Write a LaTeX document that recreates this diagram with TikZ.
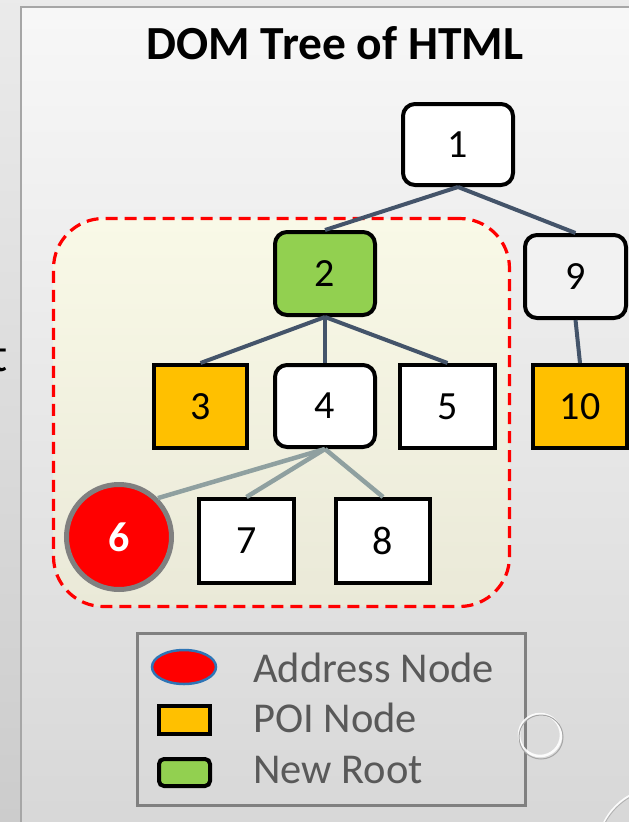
\documentclass[tikz,border=0pt]{standalone}
\usepackage{fontspec}
\setmainfont{Carlito}
\usetikzlibrary{shapes.geometric}
\definecolor{edgeblue}{HTML}{44546A}
\definecolor{edgegray}{HTML}{8FA0A0}
\definecolor{poi}{HTML}{FFC000}
\definecolor{newroot}{HTML}{92D050}
\definecolor{legtext}{HTML}{595959}
\definecolor{ellblue}{HTML}{2E75B6}
\tikzset{
  tnode/.style={draw=black, line width=4pt, inner sep=0pt, font=\fontsize{40}{44}\selectfont},
  rnd/.style={rounded corners=12pt},
  edgeA/.style={draw=edgeblue, line width=4pt},
  edgeB/.style={draw=edgegray, line width=4.5pt},
  legtxt/.style={anchor=base west, inner sep=0pt, text=legtext, font=\fontsize{42.5}{48}\selectfont},
}
\begin{document}
\begin{tikzpicture}[x=1pt,y=-1pt]
\useasboundingbox (0,0) rectangle (629,822);
\clip (0,0) rectangle (629,822);
% slide background
\fill[top color=black!8, bottom color=black!20] (0,0) rectangle (629,822);
% panel
\draw[draw=black!35, line width=1.5pt, top color=black!3, bottom color=black!16] (21,7) rectangle (660,860);
% partial letter at left edge
\node[anchor=base east, inner sep=0pt, font=\fontsize{48}{50}\selectfont] (tfrag) at (8,371) {t};
% title
\node[anchor=base, inner sep=0pt, font=\bfseries\fontsize{47.5}{52}\selectfont] (title) at (335,59) {DOM Tree of HTML};
% dashed region
\node[draw=red, dashed, dash pattern=on 12pt off 7pt, line width=3.2pt, rounded corners=50pt,
      top color={rgb,255:red,249;green,249;blue,231}, bottom color={rgb,255:red,234;green,233;blue,216},
      minimum width=456pt, minimum height=388pt] (region) at (281.5,412.5) {};
% tree nodes
\node[tnode, rnd, minimum width=110pt, minimum height=81pt, fill=white] (n1) at (458,144.5) {1};
\node[tnode, rnd, minimum width=100pt, minimum height=83pt, fill=newroot] (n2) at (325,273.5) {2};
\node[tnode, rnd, minimum width=101pt, minimum height=83pt, fill=black!5] (n9) at (575.5,276.5) {9};
\node[tnode, minimum width=93pt, minimum height=83pt, fill=poi] (n3) at (200.5,406.5) {3};
\node[tnode, rnd, minimum width=100pt, minimum height=82pt, fill=white] (n4) at (325,406) {4};
\node[tnode, minimum width=95pt, minimum height=83pt, fill=white] (n5) at (447.5,406.5) {5};
\node[tnode, minimum width=94pt, minimum height=83pt, fill=poi] (n10) at (580,406.5) {10};
\node[circle, draw=black!50, line width=5pt, fill=red, minimum size=105pt, inner sep=0pt, text=white,
      font=\bfseries\fontsize{42}{44}\selectfont] (n6) at (119,537) {6};
\node[tnode, minimum width=95pt, minimum height=84pt, fill=white] (n7) at (246.5,541) {7};
\node[tnode, minimum width=94pt, minimum height=84pt, fill=white] (n8) at (383,541) {8};
% edges
\draw[edgeA] (n1.south) -- (n2.north);
\draw[edgeA] (n1.south) -- (n9.north);
\draw[edgeA] (n2.south) -- (n3.north);
\draw[edgeA] (n2.south) -- (n4.north);
\draw[edgeA] (n2.south) -- (n5.north);
\draw[edgeA] (n9.south) -- (n10.north);
\draw[edgeB] (n4.south) -- (n6.45);
\draw[edgeB] (n4.south) -- (n7.north);
\draw[edgeB] (n4.south) -- (n8.north);
% legend
\node[draw=black!50, line width=3pt, minimum width=388pt, minimum height=172pt] (legend) at (331,719.5) {};
\node[ellipse, draw=ellblue, fill=red, line width=2.5pt, minimum width=64pt, minimum height=34pt, inner sep=0pt] (symA) at (184,667) {};
\node[draw=black, line width=4pt, fill=poi, minimum width=51pt, minimum height=28pt, inner sep=0pt] (symB) at (184.5,720) {};
\node[draw=black, line width=4pt, fill=newroot, rounded corners=5pt, minimum width=51pt, minimum height=27pt, inner sep=0pt] (symC) at (184.5,772.5) {};
\node[legtxt] (txtA) at (253,682) {Address Node};
\node[legtxt] (txtB) at (253,732) {POI Node};
\node[legtxt] (txtC) at (253,783) {New Root};
% decorative bubbles
\draw[white, line width=2.5pt, opacity=0.9] (540,735) circle (21);
\draw[black!35, line width=1pt] (541,737) circle (22);
\draw[white, line width=2.5pt, opacity=0.9] (660,850) circle (62);
\draw[black!30, line width=1pt] (661,852) circle (63);
\end{tikzpicture}
\end{document}
